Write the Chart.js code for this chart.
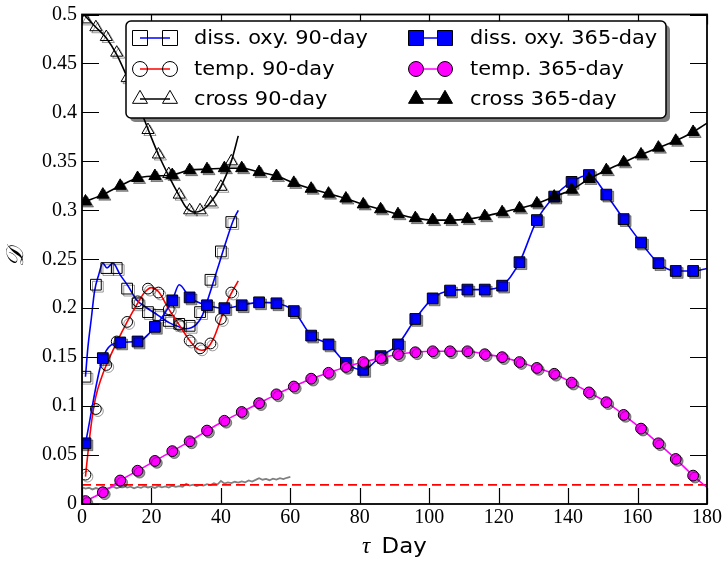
<!DOCTYPE html>
<html>
<head>
<meta charset="utf-8">
<script src="https://cdn.jsdelivr.net/npm/chart.js@4.4.0/dist/chart.umd.min.js"></script>
<style>
  html, body { margin: 0; padding: 0; background: #fff; }
</style>
</head>
<body>
<canvas id="chart" width="726" height="562"></canvas>
<script>
// ---------------- DATA ----------------

const days365 = [1, 6, 11, 16, 21, 26, 31, 36, 41, 46, 51, 56, 61, 66, 71, 76, 81, 86,
  91, 96, 101, 106, 111, 116, 121, 126, 131, 136, 141, 146, 151, 156, 161, 166, 171, 176];
const days90 = [1, 4, 7, 10, 13, 16, 19, 22, 25, 28, 31, 34, 37, 40, 43];

// 365-day windows (markers every 5 days)
const oxy365 = [0.062, 0.149, 0.165, 0.166, 0.181, 0.208, 0.211, 0.203, 0.200, 0.203, 0.206, 0.205,
  0.197, 0.172, 0.163, 0.144, 0.137, 0.151, 0.163, 0.189, 0.210, 0.218, 0.219, 0.219,
  0.223, 0.247, 0.290, 0.314, 0.329, 0.336, 0.316, 0.291, 0.267, 0.246, 0.238, 0.238];
const temp365 = [0.003, 0.012, 0.024, 0.034, 0.044, 0.054, 0.064, 0.075, 0.085, 0.094, 0.103, 0.112,
  0.120, 0.128, 0.134, 0.140, 0.145, 0.149, 0.153, 0.155, 0.156, 0.156, 0.156, 0.153,
  0.150, 0.145, 0.139, 0.133, 0.124, 0.114, 0.104, 0.091, 0.077, 0.062, 0.046, 0.029];
const cross365 = [0.309, 0.316, 0.325, 0.333, 0.335, 0.336, 0.341, 0.342, 0.343, 0.343, 0.339, 0.335,
  0.328, 0.322, 0.317, 0.312, 0.306, 0.301, 0.296, 0.292, 0.290, 0.290, 0.291, 0.294,
  0.298, 0.302, 0.307, 0.314, 0.321, 0.332, 0.341, 0.349, 0.357, 0.364, 0.371, 0.380];

// extra line vertices (no marker) for the 365-day curves
const oxy365ExtraDays = [28, 180];
const oxy365ExtraVals = [0.224, 0.2405];
const temp365ExtraDays = [180];
const temp365ExtraVals = [0.017];
const cross365ExtraDays = [180];
const cross365ExtraVals = [0.389];

// 90-day windows (markers every 3 days)
const oxy90 = [0.130, 0.224, 0.241, 0.241, 0.220, 0.205, 0.196, 0.193, 0.187, 0.184, 0.182, 0.196, 0.229, 0.258, 0.288];
const temp90 = [0.030, 0.097, 0.142, 0.166, 0.186, 0.207, 0.220, 0.216, 0.199, 0.183, 0.167, 0.159, 0.164, 0.189, 0.216];
const cross90 = [0.495, 0.487, 0.477, 0.461, 0.435, 0.410, 0.382, 0.357, 0.337, 0.316, 0.300, 0.300, 0.308, 0.324, 0.350];

// 90-day curves as drawn
const oxy90LineDays = [1, 1.7, 2.7, 3.6, 4.8, 6, 7.2, 8.9, 11, 13.2, 15.6, 18, 21.8, 25.2, 27.6, 29.9, 32.8, 34.7, 36.6, 39, 41.4, 43.5, 45];
const oxy90LineVals = [0.130, 0.160, 0.190, 0.217, 0.234, 0.246, 0.241, 0.246, 0.234, 0.223, 0.209, 0.202, 0.193, 0.185, 0.1815, 0.179, 0.183, 0.193, 0.213, 0.240, 0.267, 0.289, 0.300];
const temp90LineDays = [1, 2, 3, 4, 5.5, 7, 10, 13, 16, 18, 20, 22, 25, 28, 31, 33, 34.5, 36, 38, 40, 42, 45];
const temp90LineVals = [0.028, 0.062, 0.090, 0.110, 0.128, 0.142, 0.165, 0.186, 0.205, 0.216, 0.221, 0.217, 0.199, 0.183, 0.167, 0.159, 0.157, 0.159, 0.170, 0.189, 0.208, 0.228];
const cross90LineDays = [0.5, 4, 7, 10, 13, 16, 19, 22, 25, 28, 30, 32.5, 35, 37, 40, 43, 45];
const cross90LineVals = [0.500, 0.487, 0.476, 0.459, 0.436, 0.410, 0.383, 0.357, 0.335, 0.315, 0.303, 0.298, 0.301, 0.308, 0.324, 0.350, 0.376];

// grey noise-floor trace, days 0..60
const noiseDays = Array.from({ length: 61 }, (_, i) => i);
const noiseVals = [
  0.0172, 0.0158, 0.0166, 0.0149, 0.0163, 0.0152, 0.0170, 0.0156, 0.0165, 0.0178,
  0.0161, 0.0174, 0.0192, 0.0168, 0.0177, 0.0160, 0.0175, 0.0166, 0.0181, 0.0169,
  0.0178, 0.0164, 0.0183, 0.0171, 0.0179, 0.0168, 0.0186, 0.0175, 0.0183, 0.0177,
  0.0207, 0.0188, 0.0198, 0.0184, 0.0196, 0.0189, 0.0203, 0.0194, 0.0211, 0.0199,
  0.0236, 0.0209, 0.0221, 0.0213, 0.0227, 0.0218, 0.0231, 0.0222, 0.0240, 0.0229,
  0.0246, 0.0264, 0.0248, 0.0256, 0.0243, 0.0258, 0.0249, 0.0263, 0.0254, 0.0268, 0.0276];

// red dashed threshold
const threshDays = [0, 180];
const threshVals = [0.0195, 0.0195];

const xTickLabels = ['0', '20', '40', '60', '80', '100', '120', '140', '160', '180'];
const yTickLabels = ['0', '0.05', '0.1', '0.15', '0.2', '0.25', '0.3', '0.35', '0.4', '0.45', '0.5'];

const legendLabels = ['diss. oxy. 90-day', 'temp. 90-day', 'cross 90-day',
  'diss. oxy. 365-day', 'temp. 365-day', 'cross 365-day'];


// ---------------- HELPERS ----------------

function pts(xs, ys) {
  return xs.map((x, i) => ({ x: x, y: ys[i] }));
}

function merged(xs, ys, exXs, exYs) {
  return pts(xs.concat(exXs), ys.concat(exYs)).sort((a, b) => a.x - b.x);
}

function lineSet(data, color, extra) {
  return Object.assign({
    data: data,
    showLine: true,
    borderColor: color,
    borderWidth: 1.6,
    pointRadius: 0,
    pointHoverRadius: 0,
    cubicInterpolationMode: 'monotone',
    fill: false,
    clip: 0
  }, extra || {});
}

function markerSet(data, style, radius, fill) {
  return {
    data: data,
    showLine: false,
    pointStyle: style,
    pointRadius: radius,
    pointHoverRadius: radius,
    pointBackgroundColor: fill,
    pointBorderColor: '#000',
    pointBorderWidth: 1,
    clip: 0,
    shadow: true
  };
}

// bottom -> top drawing sequence
const layers = [
  lineSet(pts(noiseDays, noiseVals), '#808080', { cubicInterpolationMode: 'default', tension: 0, borderWidth: 1.8 }),
  lineSet(pts(threshDays, threshVals), '#ff0000', { borderDash: [9, 5], cubicInterpolationMode: 'default', tension: 0 }),
  lineSet(pts(oxy90LineDays, oxy90LineVals), '#0000ff'),
  markerSet(pts(days90, oxy90), 'rect', 7.6, 'rgba(0,0,0,0)'),
  lineSet(pts(temp90LineDays, temp90LineVals), '#ff0000'),
  markerSet(pts(days90, temp90), 'circle', 5.4, 'rgba(0,0,0,0)'),
  lineSet(pts(cross90LineDays, cross90LineVals), '#000000'),
  markerSet(pts(days90, cross90), 'triangle', 7, 'rgba(0,0,0,0)'),
  lineSet(merged(days365, oxy365, oxy365ExtraDays, oxy365ExtraVals), '#0000ff'),
  markerSet(pts(days365, oxy365), 'rect', 7.6, '#0000ff'),
  lineSet(merged(days365, temp365, temp365ExtraDays, temp365ExtraVals), '#ff00ff'),
  markerSet(pts(days365, temp365), 'circle', 5.4, '#ff00ff'),
  lineSet(merged(days365, cross365, cross365ExtraDays, cross365ExtraVals), '#000000'),
  markerSet(pts(days365, cross365), 'triangle', 7, '#000000')
];
layers.forEach((d, i) => { d.order = 100 - i; });


// -------- PLUGINS --------

const markerShadow = {
  id: 'markerShadow',
  beforeDatasetDraw(chart, args) {
    const ds = chart.data.datasets[args.index];
    if (!ds.shadow) return;
    const ctx = chart.ctx;
    ctx.save();
    ctx.shadowColor = 'rgba(0,0,0,0.4)';
    ctx.shadowOffsetX = 2;
    ctx.shadowOffsetY = 2;
    ctx.shadowBlur = 0;
  },
  afterDatasetDraw(chart, args) {
    const ds = chart.data.datasets[args.index];
    if (ds.shadow) chart.ctx.restore();
  }
};

const frameTicks = {
  id: 'frameTicks',
  afterDatasetsDraw(chart) {
    const ctx = chart.ctx;
    const a = chart.chartArea;
    const xs = chart.scales.x, ys = chart.scales.y;
    ctx.save();
    ctx.strokeStyle = '#000';
    ctx.lineWidth = 1.2;
    ctx.beginPath();
    xs.ticks.forEach(t => {
      const px = Math.round(xs.getPixelForValue(t.value)) + 0.5;
      ctx.moveTo(px, a.bottom); ctx.lineTo(px, a.bottom - 16);
      ctx.moveTo(px, a.top); ctx.lineTo(px, a.top + 10);
    });
    ys.ticks.forEach(t => {
      const py = Math.round(ys.getPixelForValue(t.value)) + 0.5;
      ctx.moveTo(a.left, py); ctx.lineTo(a.left + 17, py);
      ctx.moveTo(a.right, py); ctx.lineTo(a.right - 17, py);
    });
    ctx.stroke();
    ctx.lineWidth = 1.8;
    ctx.strokeRect(a.left, a.top, a.right - a.left, a.bottom - a.top);
    ctx.restore();
  }
};

function drawMarker(ctx, style, x, y, size, fill) {
  ctx.beginPath();
  if (style === 'rect') {
    ctx.rect(x - size / 2, y - size / 2, size, size);
  } else if (style === 'circle') {
    ctx.arc(x, y, size / 2, 0, Math.PI * 2);
  } else {
    const h = size * 0.866;
    ctx.moveTo(x, y - h * 2 / 3);
    ctx.lineTo(x + size / 2, y + h / 3);
    ctx.lineTo(x - size / 2, y + h / 3);
    ctx.closePath();
  }
  if (fill) { ctx.fillStyle = fill; ctx.fill(); }
  ctx.stroke();
}

function roundRect(ctx, x, y, w, h, r) {
  ctx.beginPath();
  ctx.moveTo(x + r, y);
  ctx.arcTo(x + w, y, x + w, y + h, r);
  ctx.arcTo(x + w, y + h, x, y + h, r);
  ctx.arcTo(x, y + h, x, y, r);
  ctx.arcTo(x, y, x + w, y, r);
  ctx.closePath();
}

const legendBox = {
  id: 'legendBox',
  afterDraw(chart) {
    const ctx = chart.ctx;
    const bx = 126, by = 21, bw = 540, bh = 97;
    ctx.save();
    roundRect(ctx, bx + 4, by + 4, bw, bh, 5);
    ctx.fillStyle = 'rgba(0,0,0,0.5)';
    ctx.fill();
    roundRect(ctx, bx, by, bw, bh, 5);
    ctx.fillStyle = '#fff';
    ctx.fill();
    ctx.strokeStyle = '#000';
    ctx.lineWidth = 1.5;
    ctx.stroke();

    const styles = [
      ['rect', '#0000ff', null], ['circle', '#ff0000', null], ['triangle', '#000000', null],
      ['rect', '#0000ff', '#0000ff'], ['circle', '#ff00ff', '#ff00ff'], ['triangle', '#000000', '#000000']
    ];
    const rows = [38, 69, 99];
    const cols = [[140, 170, 194], [416, 445, 470]];

    legendLabels.forEach((label, i) => {
      const c = cols[Math.floor(i / 3)], y = rows[i % 3];
      const s = styles[i];
      ctx.strokeStyle = s[1];
      ctx.lineWidth = 1.5;
      ctx.beginPath();
      ctx.moveTo(c[0], y); ctx.lineTo(c[1], y);
      ctx.stroke();
      ctx.strokeStyle = '#000';
      ctx.lineWidth = 1;
      drawMarker(ctx, s[0], c[0], y, 15, s[2]);
      drawMarker(ctx, s[0], c[1], y, 15, s[2]);

      ctx.save();
      ctx.translate(c[2], y);
      ctx.scale(1.1, 1);
      ctx.fillStyle = '#000';
      ctx.font = '19px "DejaVu Sans"';
      ctx.textBaseline = 'middle';
      ctx.textAlign = 'left';
      ctx.fillText(label, 0, 1);
      ctx.restore();
    });
    ctx.restore();
  }
};

const axisTitles = {
  id: 'axisTitles',
  afterDraw(chart) {
    const ctx = chart.ctx;
    ctx.save();
    ctx.fillStyle = '#000';
    ctx.textBaseline = 'alphabetic';
    ctx.textAlign = 'left';
    ctx.font = 'italic 23px "Liberation Serif"';
    ctx.fillText('τ', 362, 553);
    ctx.save();
    ctx.translate(381.5, 553);
    ctx.scale(1.09, 1);
    ctx.font = '21px "DejaVu Sans"';
    ctx.fillText('Day', 0, 0);
    ctx.restore();

    ctx.translate(17, 257);
    ctx.rotate(-Math.PI / 2);
    ctx.font = 'italic 24px "DejaVu Serif"';
    ctx.textAlign = 'center';
    ctx.textBaseline = 'middle';
    ctx.fillText('𝒟', 0, 0);
    ctx.restore();
  }
};


// -------- CHART --------

const tickFont = { family: '"Liberation Serif"', size: 20, lineHeight: 0.95 };

new Chart(document.getElementById('chart'), {
  type: 'scatter',
  data: { datasets: layers },
  options: {
    responsive: false,
    animation: false,
    devicePixelRatio: 1,
    layout: { padding: { left: 0, right: 17, top: 10, bottom: 0 } },
    plugins: { legend: { display: false }, tooltip: { enabled: false } },
    events: [],
    scales: {
      x: {
        type: 'linear',
        min: 0,
        max: 180,
        ticks: {
          stepSize: 20,
          color: '#000',
          font: tickFont,
          padding: 4,
          maxRotation: 0,
          callback: (v, i) => xTickLabels[i]
        },
        grid: { display: false, drawTicks: false },
        border: { display: false },
        afterFit: s => { s.height = 58; }
      },
      y: {
        type: 'linear',
        min: 0,
        max: 0.5,
        ticks: {
          stepSize: 0.05,
          color: '#000',
          font: tickFont,
          padding: 5,
          callback: (v, i) => yTickLabels[i]
        },
        grid: { display: false, drawTicks: false },
        border: { display: false },
        afterFit: s => { s.width = 82; }
      }
    }
  },
  plugins: [markerShadow, frameTicks, legendBox, axisTitles]
});
</script>
</body>
</html>
